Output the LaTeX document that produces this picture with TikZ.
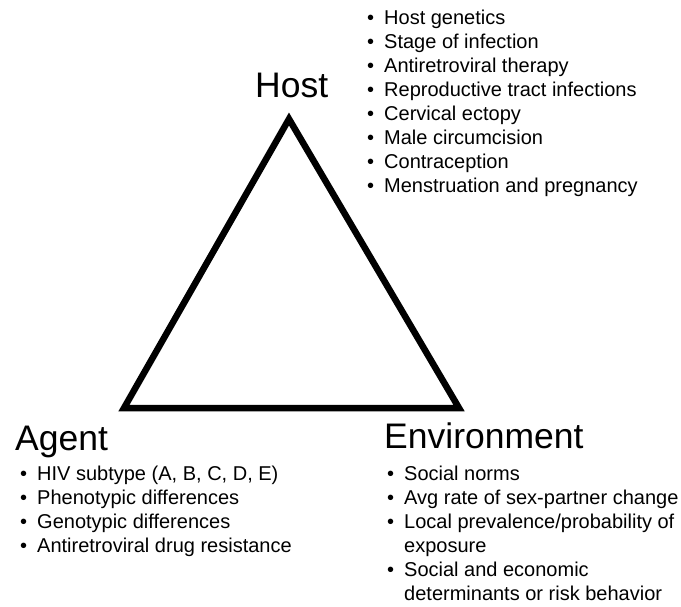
\documentclass[tikz,border=0pt]{standalone}
\usepackage{fontspec}
\setmainfont{Liberation Sans}
\newcommand{\bigname}{\fontsize{35.5}{40}\selectfont}
\newcommand{\factorfont}{\fontsize{20}{24}\selectfont}
\tikzset{
  vertexname/.style={anchor=base west, inner sep=0pt, font=\bigname},
  factorlist/.style={anchor=base west, inner sep=0pt, font=\factorfont},
}
\newcommand{\factors}[1]{\begin{tabular}[t]{@{}l@{\hspace{10pt}}l@{}}#1\end{tabular}}
\begin{document}
\begin{tikzpicture}[x=1pt,y=-1pt]
        \useasboundingbox[fill=white] (0,0) rectangle (681,607) ;
        \coordinate (apex) at (289,119) ;
        \coordinate (left) at (124,408) ;
        \coordinate (right) at (459,408) ;
        \draw[line width=6.5pt, line join=miter] (apex) -- (left) -- (right) -- cycle ;
        \node[vertexname] (host) at (255,98) {Host} ;
        \node[factorlist] (hostlist) at (367,25) {\factors{
            \textbullet & Host genetics \\
            \textbullet & Stage of infection \\
            \textbullet & Antiretroviral therapy \\
            \textbullet & Reproductive tract infections \\
            \textbullet & Cervical ectopy \\
            \textbullet & Male circumcision \\
            \textbullet & Contraception \\
            \textbullet & Menstruation and pregnancy}} ;
        \node[vertexname] (agent) at (15,450) {Agent} ;
        \node[factorlist] (agentlist) at (20,480) {\factors{
            \textbullet & HIV subtype (A, B, C, D, E) \\
            \textbullet & Phenotypic differences \\
            \textbullet & Genotypic differences \\
            \textbullet & Antiretroviral drug resistance}} ;
        \node[vertexname] (env) at (384,448) {Environment} ;
        \node[factorlist] (envlist) at (387,480) {\factors{
            \textbullet & Social norms \\
            \textbullet & Avg rate of sex-partner change \\
            \textbullet & Local prevalence/probability of \\
                        & exposure \\
            \textbullet & Social and economic \\
                        & determinants or risk behavior}} ;
    \end{tikzpicture}
\end{document}
